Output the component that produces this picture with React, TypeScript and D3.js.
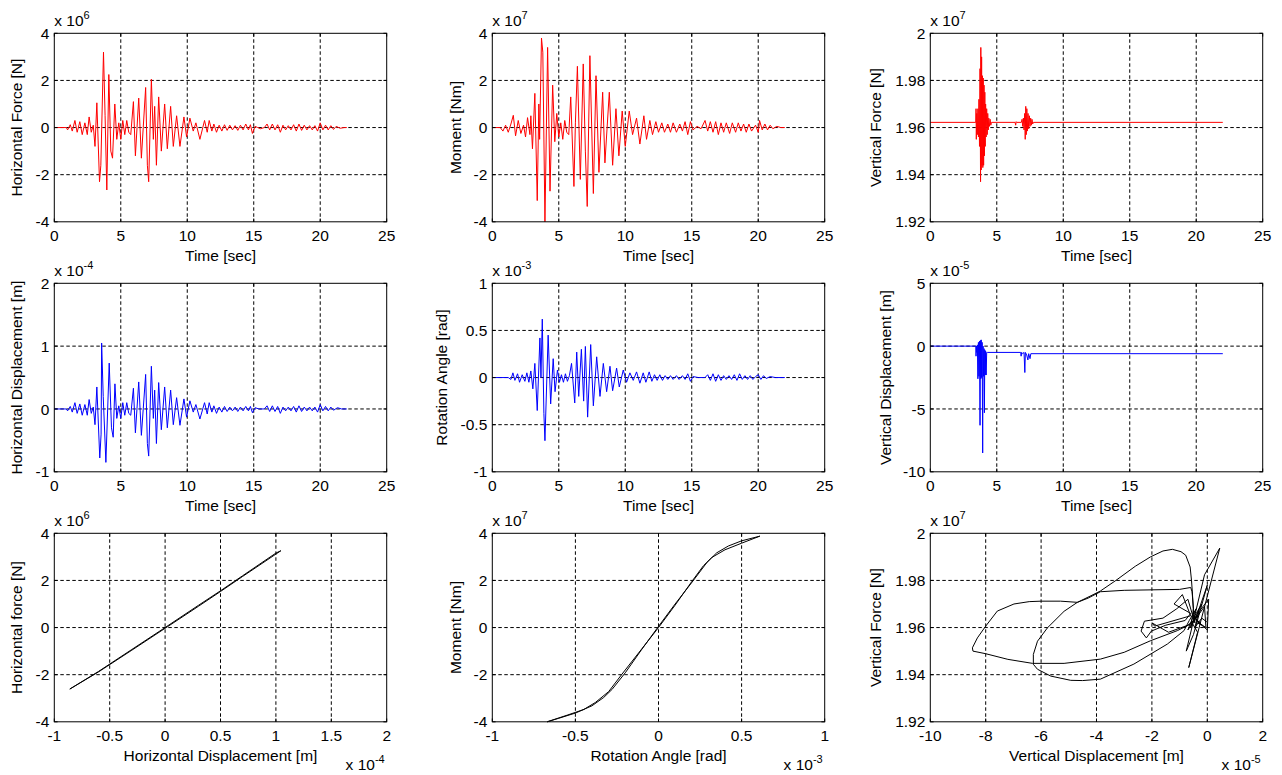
import React from "react";
import * as d3 from "d3";

// ---------- data ----------
// Horizontal force [x1e6 N] vs time [s]
const hForce: [number, number][] = [
  [0, 0], [0.9, 0], [1.0, -0.1], [1.2, 0.12], [1.35, -0.15], [1.55, 0.3], [1.72, -0.2], [1.92, 0.25], [2.1, -0.3],
  [2.3, 0.2], [2.48, -0.3], [2.62, 0.45], [2.78, -0.2], [2.93, 0.1], [3.06, -0.8], [3.2, 1.05], [3.4, -2.3],
  [3.5, -1.6], [3.7, 3.2], [3.82, 0.5], [3.95, -2.65], [4.1, 2.25], [4.25, -1.0], [4.38, -1.3], [4.55, 1.0],
  [4.7, -0.5], [4.85, 0.2], [5.0, -0.5], [5.15, 0.3], [5.3, -0.3], [5.45, 0.3], [5.6, -0.2], [5.75, -0.3],
  [5.95, 1.1], [6.1, -1.2], [6.35, 1.25], [6.55, -1.3], [6.87, 1.7], [7.0, -1.6], [7.1, -2.3], [7.3, 2.05],
  [7.45, -0.5], [7.55, 0.9], [7.68, -1.6], [7.85, 1.3], [8.05, -1.0], [8.3, 1.0], [8.5, -0.9], [8.75, 0.9],
  [8.95, -0.8], [9.2, 0.5], [9.45, -0.8], [9.75, 0.45], [9.95, -0.4], [10.2, 0.4], [10.45, -0.15], [10.65, 0.2],
  [10.95, -0.5], [11.3, 0.3], [11.5, -0.2], [11.65, 0.3], [11.85, -0.15], [12.0, 0.15], [12.2, -0.2], [12.4, 0.1],
  [12.6, -0.15], [12.8, 0.12], [13.0, -0.12], [13.2, 0.1], [13.4, -0.1], [13.6, 0.08], [13.8, -0.12], [14.0, 0.1],
  [14.2, -0.1], [14.4, 0.15], [14.6, -0.1], [14.75, 0.12], [14.9, -0.25], [15.1, 0.05], [15.3, 0.0], [15.5, -0.05],
  [15.8, 0.0], [16.0, 0.15], [16.2, -0.1], [16.4, 0.15], [16.6, -0.1], [16.8, 0.12], [17.0, -0.2], [17.2, 0.1],
  [17.4, -0.1], [17.6, 0.08], [17.8, -0.1], [18.0, 0.12], [18.2, -0.15], [18.4, 0.15], [18.6, -0.12], [18.8, 0.1],
  [19.0, -0.1], [19.2, 0.08], [19.4, -0.1], [19.6, 0.08], [19.8, -0.15], [20.0, 0.2], [20.2, -0.1], [20.4, 0.1],
  [20.6, -0.1], [20.8, 0.08], [21.0, -0.08], [21.2, 0.05], [21.5, -0.03], [21.8, 0.0], [22.0, 0.0],
];

// Moment [x1e7 Nm] vs time [s]
const moment: [number, number][] = [
  [0, 0], [0.6, 0], [0.8, -0.15], [1.0, 0.1], [1.2, -0.2], [1.4, 0.15], [1.58, 0.52], [1.75, -0.35], [1.95, 0.3],
  [2.15, -0.25], [2.35, 0.1], [2.5, -0.4], [2.65, 0.42], [2.83, -0.3], [2.9, 0.5], [3.02, -0.9], [3.2, 1.45],
  [3.38, -3.1], [3.5, 1.0], [3.56, -0.5], [3.7, 3.8], [3.8, 3.2], [3.96, -4.0], [4.16, 3.4], [4.34, -2.7],
  [4.54, 1.8], [4.7, -0.6], [4.85, 0.6], [5.0, -0.4], [5.15, 0.2], [5.3, -0.5], [5.45, 0.3], [5.6, -0.2],
  [5.75, -0.3], [5.9, 1.3], [6.14, -2.5], [6.25, 0.2], [6.4, 2.6], [6.62, -2.2], [6.84, 2.7], [7.0, -1.0],
  [7.14, -3.35], [7.34, 3.05], [7.6, -2.8], [7.8, 2.2], [8.02, -1.9], [8.3, 1.5], [8.47, -1.5], [8.8, 1.5],
  [9.05, -1.6], [9.3, 0.8], [9.52, -1.2], [9.77, 0.7], [10.0, -0.8], [10.3, 0.7], [10.55, -0.3], [10.85, 0.4],
  [11.1, -0.7], [11.4, 0.5], [11.6, -0.5], [11.85, 0.3], [12.05, -0.3], [12.3, 0.25], [12.5, -0.2], [12.75, 0.2],
  [12.95, -0.2], [13.2, 0.15], [13.4, -0.2], [13.6, 0.2], [13.85, -0.2], [14.1, 0.15], [14.3, -0.15], [14.5, 0.25],
  [14.7, -0.3], [14.9, 0.25], [15.1, -0.1], [15.4, 0.05], [15.7, -0.05], [16.0, 0.3], [16.2, -0.15], [16.4, 0.25],
  [16.6, -0.2], [16.8, 0.25], [17.0, -0.3], [17.2, 0.2], [17.4, -0.2], [17.6, 0.2], [17.85, -0.25], [18.05, 0.2],
  [18.3, -0.2], [18.5, 0.2], [18.7, -0.15], [18.9, 0.15], [19.1, -0.2], [19.3, 0.15], [19.5, -0.15], [19.8, 0.1],
  [20.0, -0.2], [20.1, 0.3], [20.3, -0.1], [20.5, 0.15], [20.7, -0.1], [20.9, 0.1], [21.1, -0.05], [21.4, 0.05],
  [21.7, 0.0], [22.0, 0.0],
];

// Vertical force [x1e7 N] vs time [s]
const vForce: [number, number][] = [
  [0, 1.9622], [3.42, 1.9622], [3.44, 1.968], [3.46, 1.955], [3.5, 1.966], [3.54, 1.957], [3.58, 1.968],
  [3.62, 1.956], [3.66, 1.972], [3.7, 1.952], [3.74, 1.985], [3.78, 1.937], [3.8, 1.994], [3.83, 1.942],
  [3.86, 1.99], [3.89, 1.944], [3.92, 1.982], [3.95, 1.943], [3.98, 1.981], [4.01, 1.944], [4.04, 1.978],
  [4.07, 1.948], [4.1, 1.975], [4.13, 1.952], [4.16, 1.97], [4.2, 1.956], [4.24, 1.968], [4.28, 1.957],
  [4.32, 1.966], [4.36, 1.959], [4.4, 1.964], [4.45, 1.9605], [4.5, 1.9635], [4.55, 1.961], [4.6, 1.9622],
  [6.38, 1.9622], [6.42, 1.961], [6.46, 1.9625], [6.5, 1.9622], [6.85, 1.9622], [6.9, 1.9635], [6.95, 1.9605],
  [7.0, 1.964], [7.05, 1.959], [7.1, 1.966], [7.14, 1.955], [7.18, 1.969], [7.22, 1.957], [7.26, 1.968],
  [7.3, 1.9585], [7.35, 1.966], [7.4, 1.9595], [7.45, 1.965], [7.5, 1.9605], [7.55, 1.964], [7.6, 1.961],
  [7.65, 1.9635], [7.7, 1.9615], [7.75, 1.9622], [22.0, 1.9622],
];

// Horizontal displacement [x1e-4 m] vs time [s]
const hDisp: [number, number][] = [
  [0, 0], [0.9, 0], [1.0, -0.03], [1.2, 0.04], [1.35, -0.05], [1.55, 0.1], [1.72, -0.07], [1.92, 0.08], [2.1, -0.1],
  [2.3, 0.07], [2.48, -0.1], [2.62, 0.15], [2.78, -0.07], [2.93, 0.03], [3.06, -0.25], [3.2, 0.35], [3.42, -0.78],
  [3.52, -0.4], [3.56, 1.05], [3.68, 0.2], [3.88, -0.85], [4.13, 0.73], [4.3, -0.3], [4.43, -0.45], [4.56, 0.4],
  [4.7, -0.15], [4.85, 0.05], [5.0, -0.15], [5.15, 0.1], [5.3, -0.1], [5.45, 0.1], [5.6, -0.07], [5.75, -0.1],
  [5.95, 0.33], [6.1, -0.38], [6.35, 0.43], [6.55, -0.42], [6.87, 0.55], [7.0, -0.55], [7.1, -0.75], [7.3, 0.68],
  [7.45, -0.15], [7.55, 0.3], [7.68, -0.55], [7.85, 0.42], [8.05, -0.33], [8.3, 0.35], [8.5, -0.3], [8.75, 0.3],
  [8.95, -0.25], [9.2, 0.18], [9.45, -0.26], [9.75, 0.16], [9.95, -0.13], [10.2, 0.13], [10.45, -0.05], [10.65, 0.07],
  [10.95, -0.16], [11.3, 0.1], [11.5, -0.08], [11.65, 0.1], [11.85, -0.05], [12.0, 0.05], [12.2, -0.07], [12.4, 0.03],
  [12.6, -0.05], [12.8, 0.04], [13.0, -0.04], [13.2, 0.03], [13.4, -0.03], [13.6, 0.03], [13.8, -0.04], [14.0, 0.03],
  [14.2, -0.03], [14.4, 0.04], [14.6, -0.03], [14.75, 0.04], [14.9, -0.06], [15.1, 0.02], [15.4, 0.0], [15.8, 0.0],
  [16.0, 0.05], [16.2, -0.04], [16.4, 0.05], [16.6, -0.04], [16.8, 0.04], [17.0, -0.07], [17.2, 0.03], [17.4, -0.03],
  [17.6, 0.03], [17.8, -0.03], [18.0, 0.04], [18.2, -0.05], [18.4, 0.05], [18.6, -0.04], [18.8, 0.03], [19.0, -0.03],
  [19.2, 0.03], [19.4, -0.03], [19.6, 0.03], [19.8, -0.05], [20.0, 0.07], [20.2, -0.03], [20.4, 0.04], [20.6, -0.03],
  [20.8, 0.03], [21.0, -0.02], [21.3, 0.02], [21.6, 0.0], [22.0, 0.0],
];

// Rotation angle [x1e-3 rad] vs time [s]
const rotation: [number, number][] = [
  [0, 0], [1.2, 0], [1.4, -0.02], [1.55, 0.05], [1.7, -0.03], [1.9, 0.04], [2.05, -0.05], [2.25, 0.03], [2.45, -0.04],
  [2.6, 0.05], [2.75, -0.05], [2.9, 0.07], [3.05, -0.12], [3.2, 0.15], [3.38, -0.35], [3.58, 0.42], [3.66, 0.0],
  [3.76, 0.62], [3.88, -0.38], [3.96, -0.67], [4.2, 0.45], [4.39, -0.28], [4.58, 0.2], [4.72, -0.15], [4.9, 0.08],
  [5.05, -0.05], [5.2, 0.03], [5.35, -0.05], [5.5, 0.04], [5.65, -0.04], [5.8, 0.02], [5.96, 0.15], [6.2, -0.27],
  [6.35, 0.27], [6.5, -0.2], [6.7, 0.3], [6.87, -0.25], [7.0, 0.33], [7.17, -0.42], [7.4, 0.35], [7.6, -0.3],
  [7.85, 0.22], [8.1, -0.2], [8.35, 0.15], [8.6, -0.15], [8.85, 0.12], [9.05, -0.14], [9.35, 0.1], [9.55, -0.1],
  [9.85, 0.08], [10.1, -0.05], [10.35, 0.05], [10.6, -0.03], [10.85, 0.06], [11.1, -0.06], [11.35, 0.05],
  [11.55, -0.05], [11.8, 0.06], [12.0, -0.04], [12.2, 0.03], [12.4, -0.03], [12.6, 0.03], [12.8, -0.03], [13.0, 0.02],
  [13.2, -0.02], [13.4, 0.02], [13.6, -0.02], [13.85, 0.02], [14.05, -0.02], [14.3, 0.02], [14.5, -0.02], [14.7, 0.04],
  [14.9, -0.04], [15.1, 0.01], [15.5, 0.0], [16.0, 0.0], [16.2, 0.03], [16.4, -0.03], [16.6, 0.04], [16.8, -0.04],
  [17.0, 0.03], [17.2, -0.03], [17.4, 0.02], [17.6, -0.02], [17.8, 0.02], [18.0, -0.02], [18.2, 0.03], [18.4, -0.03],
  [18.6, 0.04], [18.8, -0.02], [19.0, 0.02], [19.2, -0.02], [19.4, 0.02], [19.6, -0.02], [19.8, 0.01], [20.0, 0.03],
  [20.2, -0.02], [20.4, 0.02], [20.6, -0.01], [20.9, 0.01], [21.3, 0.0], [22.0, 0.0],
];

// Vertical displacement [x1e-5 m] vs time [s]
const vDisp: [number, number][] = [
  [0, 0], [3.42, 0], [3.44, -0.8], [3.47, 0], [3.5, -0.5], [3.54, 0.1], [3.58, -2.6], [3.62, 0.3], [3.66, -2.4],
  [3.7, 0.4], [3.74, -6.3], [3.77, 0.45], [3.8, -2.6], [3.83, 0.5], [3.86, -2.5], [3.9, 0.3], [3.94, -8.5],
  [3.97, 0.0], [4.0, -2.4], [4.04, -0.2], [4.07, -5.3], [4.1, -0.3], [4.13, -2.3], [4.16, -0.4], [4.2, -2.3],
  [4.24, -0.5], [4.3, -0.5], [6.8, -0.5], [6.83, -0.8], [6.87, -0.5], [6.95, -0.6], [7.05, -0.5], [7.11, -2.1],
  [7.15, -0.5], [7.25, -0.7], [7.34, -1.1], [7.4, -0.6], [7.5, -1.0], [7.56, -0.6], [22.0, -0.6],
];

// Horizontal force [x1e6 N] vs horizontal displacement [x1e-4 m]
const hfLoop: [number, number][] = [
  [-0.86, -2.61], [-0.6, -1.86], [-0.3, -0.93], [0, 0], [0.3, 0.94], [0.5, 1.56], [0.7, 2.2], [1.0, 3.16], [1.045, 3.26],
  [0.7, 2.17], [0.5, 1.53], [0.3, 0.9], [0.02, 0.03], [-0.3, -0.96], [-0.6, -1.88], [-0.86, -2.61],
];

// Moment [x1e7 Nm] vs rotation angle [x1e-3 rad]
const mLoop: [number, number][] = [
  [-0.67, -4.0], [-0.55, -3.72], [-0.45, -3.48], [-0.38, -3.18], [-0.3, -2.72], [-0.22, -1.98], [-0.1, -0.9],
  [0, 0], [0.1, 0.95], [0.2, 1.95], [0.27, 2.62], [0.32, 2.97], [0.4, 3.3], [0.5, 3.58], [0.61, 3.88],
  [0.5, 3.68], [0.42, 3.46], [0.35, 3.17], [0.29, 2.75], [0.21, 2.0], [0.1, 1.0], [0, 0.05], [-0.1, -0.92],
  [-0.2, -1.92], [-0.28, -2.63], [-0.33, -2.97], [-0.4, -3.32], [-0.5, -3.63], [-0.6, -3.85], [-0.67, -4.0],
];

// Vertical force [x1e7 N] vs vertical displacement [x1e-5 m]
const vLoop: [number, number][] = [
  [0, 1.9622], [-0.2, 1.964], [-0.45, 1.96], [-0.3, 1.967], [-0.55, 1.962], [-0.35, 1.958],
  [-0.67, 1.943], [0.45, 1.9937], [-0.1, 1.9824], [-0.76, 1.95], [-0.5, 1.957], [0.0, 1.978], [-0.35, 1.966],
  [0.05, 1.972], [0.0, 1.959], [-0.5, 1.964], [-0.2, 1.97], [-0.6, 1.96],
  [-0.5, 1.968], [-0.55, 1.9752], [-0.6, 1.977], [-1.0, 1.9762], [-2.0, 1.976], [-3.0, 1.9758], [-3.86, 1.9752],
  [-4.3, 1.9725], [-4.69, 1.9707], [-5.3, 1.9712], [-6.0, 1.9712], [-6.43, 1.971], [-6.98, 1.97], [-7.58, 1.967],
  [-8.0, 1.9606], [-8.3, 1.9556], [-8.48, 1.9514], [-8.46, 1.95], [-8.0, 1.9489], [-7.2, 1.9465], [-6.31, 1.9448],
  [-5.17, 1.9448], [-3.86, 1.9466], [-3.0, 1.9495], [-2.05, 1.9544], [-1.08, 1.9587], [-0.6, 1.9615],
  [-0.3, 1.966], [-0.7, 1.959], [-0.4, 1.968], [-0.65, 1.963],
  [-0.84, 1.9587], [-1.44, 1.953], [-2.65, 1.9445], [-3.86, 1.9381], [-4.5, 1.9375], [-4.93, 1.9376],
  [-5.65, 1.9394], [-6.13, 1.9423], [-6.28, 1.9444], [-6.28, 1.9486], [-6.13, 1.9542], [-5.77, 1.9599],
  [-5.17, 1.9669], [-4.69, 1.9707], [-4.2, 1.9735], [-3.86, 1.9755], [-3.3, 1.98], [-2.6, 1.986], [-2.05, 1.99],
  [-1.6, 1.9925], [-1.26, 1.9932], [-0.95, 1.9922], [-0.78, 1.9907], [-0.62, 1.9857], [-0.57, 1.98],
  [-0.54, 1.9751], [-0.5, 1.967],
  [-0.45, 1.962], [-0.7, 1.972], [-1.1, 1.968], [-1.6, 1.964], [-2.27, 1.9627], [-2.39, 1.9585], [-2.2, 1.9556],
  [-2.02, 1.9585], [-1.5, 1.961], [-0.8, 1.963], [-0.6, 1.966], [-1.2, 1.97], [-0.9, 1.974], [-0.6, 1.965],
  [-1.9, 1.9606], [-2.0, 1.962], [-1.4, 1.958], [-0.7, 1.961], [-0.4, 1.964], [-0.1, 1.969], [-0.05, 1.96],
  [-0.3, 1.962], [-0.5, 1.965], [-0.2, 1.961], [-0.4, 1.9622],
];

// tick values & labels
const timeTicks = [0, 5, 10, 15, 20, 25];
const timeTickLabels = ["0", "5", "10", "15", "20", "25"];
const pm4Ticks = [-4, -2, 0, 2, 4];
const pm4Labels = ["-4", "-2", "0", "2", "4"];
const vfTicks = [1.92, 1.94, 1.96, 1.98, 2.0];
const vfLabels = ["1.92", "1.94", "1.96", "1.98", "2"];
const hdTicks = [-1, 0, 1, 2];
const hdLabels = ["-1", "0", "1", "2"];
const rotTicks = [-1, -0.5, 0, 0.5, 1];
const rotLabels = ["-1", "-0.5", "0", "0.5", "1"];
const vdTicks = [-10, -5, 0, 5];
const vdLabels = ["-10", "-5", "0", "5"];
const hdxTicks = [-1, -0.5, 0, 0.5, 1, 1.5, 2];
const hdxLabels = ["-1", "-0.5", "0", "0.5", "1", "1.5", "2"];
const rotxTicks = [-1, -0.5, 0, 0.5, 1];
const rotxLabels = ["-1", "-0.5", "0", "0.5", "1"];
const vdxTicks = [-10, -8, -6, -4, -2, 0, 2];
const vdxLabels = ["-10", "-8", "-6", "-4", "-2", "0", "2"];

// ---------- layout ----------
const COLX = [54.3, 492.3, 930.3];
const ROWY = [33.3, 283.3, 533.3];
const PW = 332.4;
const PH = 188.5;
const FONT = "'Liberation Sans', Arial, Helvetica, sans-serif";
const FS = 15.5;

type Panel = {
  col: number; row: number;
  data: [number, number][]; color: string;
  xDomain: [number, number]; yDomain: [number, number];
  xTicks: number[]; xLabels: string[]; yTicks: number[]; yLabels: string[];
  xTitle: string; yTitle: string; yExp: string; xExp?: string; yTitleOff: number;
};

const panels: Panel[] = [
  { col: 0, row: 0, data: hForce, color: "#ff0000", xDomain: [0, 25], yDomain: [-4, 4], xTicks: timeTicks, xLabels: timeTickLabels, yTicks: pm4Ticks, yLabels: pm4Labels, xTitle: "Time [sec]", yTitle: "Horizontal Force [N]", yExp: "6", yTitleOff: 37.6 },
  { col: 1, row: 0, data: moment, color: "#ff0000", xDomain: [0, 25], yDomain: [-4, 4], xTicks: timeTicks, xLabels: timeTickLabels, yTicks: pm4Ticks, yLabels: pm4Labels, xTitle: "Time [sec]", yTitle: "Moment [Nm]", yExp: "7", yTitleOff: 37 },
  { col: 2, row: 0, data: vForce, color: "#ff0000", xDomain: [0, 25], yDomain: [1.92, 2.0], xTicks: timeTicks, xLabels: timeTickLabels, yTicks: vfTicks, yLabels: vfLabels, xTitle: "Time [sec]", yTitle: "Vertical Force [N]", yExp: "7", yTitleOff: 55 },
  { col: 0, row: 1, data: hDisp, color: "#0000ff", xDomain: [0, 25], yDomain: [-1, 2], xTicks: timeTicks, xLabels: timeTickLabels, yTicks: hdTicks, yLabels: hdLabels, xTitle: "Time [sec]", yTitle: "Horizontal Displacement [m]", yExp: "-4", yTitleOff: 37.6 },
  { col: 1, row: 1, data: rotation, color: "#0000ff", xDomain: [0, 25], yDomain: [-1, 1], xTicks: timeTicks, xLabels: timeTickLabels, yTicks: rotTicks, yLabels: rotLabels, xTitle: "Time [sec]", yTitle: "Rotation Angle [rad]", yExp: "-3", yTitleOff: 50.6 },
  { col: 2, row: 1, data: vDisp, color: "#0000ff", xDomain: [0, 25], yDomain: [-10, 5], xTicks: timeTicks, xLabels: timeTickLabels, yTicks: vdTicks, yLabels: vdLabels, xTitle: "Time [sec]", yTitle: "Vertical Displacement [m]", yExp: "-5", yTitleOff: 45 },
  { col: 0, row: 2, data: hfLoop, color: "#000000", xDomain: [-1, 2], yDomain: [-4, 4], xTicks: hdxTicks, xLabels: hdxLabels, yTicks: pm4Ticks, yLabels: pm4Labels, xTitle: "Horizontal Displacement [m]", yTitle: "Horizontal force [N]", yExp: "6", xExp: "-4", yTitleOff: 37.6 },
  { col: 1, row: 2, data: mLoop, color: "#000000", xDomain: [-1, 1], yDomain: [-4, 4], xTicks: rotxTicks, xLabels: rotxLabels, yTicks: pm4Ticks, yLabels: pm4Labels, xTitle: "Rotation Angle [rad]", yTitle: "Moment [Nm]", yExp: "7", xExp: "-3", yTitleOff: 37 },
  { col: 2, row: 2, data: vLoop, color: "#000000", xDomain: [-10, 2], yDomain: [1.92, 2.0], xTicks: vdxTicks, xLabels: vdxLabels, yTicks: vfTicks, yLabels: vfLabels, xTitle: "Vertical Displacement [m]", yTitle: "Vertical Force [N]", yExp: "7", xExp: "-5", yTitleOff: 55 },
];

function PanelView({ p }: { p: Panel }) {
  const x0 = COLX[p.col];
  const y0 = ROWY[p.row];
  const x = d3.scaleLinear().domain(p.xDomain).range([x0, x0 + PW]);
  const y = d3.scaleLinear().domain(p.yDomain).range([y0 + PH, y0]);
  const line = d3.line<[number, number]>().x((d) => x(d[0])).y((d) => y(d[1]));
  const [xa, xb] = p.xDomain;
  const [ya, yb] = p.yDomain;
  const eps = 1e-9;
  const innerX = p.xTicks.filter((t) => t > xa + eps && t < xb - eps);
  const innerY = p.yTicks.filter((t) => t > ya + eps && t < yb - eps);
  const tl = 3.3;
  return (
    <g>
      {/* grid */}
      {innerX.map((t, i) => (
        <line key={"gx" + i} x1={x(t)} x2={x(t)} y1={y0} y2={y0 + PH} stroke="#000" strokeWidth={1} strokeDasharray="3.5,2.5" />
      ))}
      {innerY.map((t, i) => (
        <line key={"gy" + i} x1={x0} x2={x0 + PW} y1={y(t)} y2={y(t)} stroke="#000" strokeWidth={1} strokeDasharray="3.5,2.5" />
      ))}
      {/* data */}
      <path d={line(p.data) || ""} fill="none" stroke={p.color} strokeWidth={1} strokeLinejoin="round" />
      {/* ticks */}
      {p.xTicks.map((t, i) => (
        <g key={"tx" + i}>
          <line x1={x(t)} x2={x(t)} y1={y0 + PH} y2={y0 + PH - tl} stroke="#000" />
          <line x1={x(t)} x2={x(t)} y1={y0} y2={y0 + tl} stroke="#000" />
        </g>
      ))}
      {p.yTicks.map((t, i) => (
        <g key={"ty" + i}>
          <line x1={x0} x2={x0 + tl} y1={y(t)} y2={y(t)} stroke="#000" />
          <line x1={x0 + PW} x2={x0 + PW - tl} y1={y(t)} y2={y(t)} stroke="#000" />
        </g>
      ))}
      {/* box */}
      <rect x={x0} y={y0} width={PW} height={PH} fill="none" stroke="#000" strokeWidth={1} />
      {/* tick labels */}
      {p.xTicks.map((t, i) => (
        <text key={"lx" + i} x={x(t)} y={y0 + PH + 19} textAnchor="middle" fontSize={FS} fontFamily={FONT} fill="#000">
          {p.xLabels[i]}
        </text>
      ))}
      {p.yTicks.map((t, i) => (
        <text key={"ly" + i} x={x0 - 5} y={y(t)} dy="0.36em" textAnchor="end" fontSize={FS} fontFamily={FONT} fill="#000">
          {p.yLabels[i]}
        </text>
      ))}
      {/* axis titles */}
      <text x={x0 + PW / 2} y={y0 + PH + 39} textAnchor="middle" fontSize={FS} fontFamily={FONT} fill="#000">
        {p.xTitle}
      </text>
      <text
        transform={`translate(${x0 - p.yTitleOff},${y0 + PH / 2}) rotate(-90)`}
        dy="0.35em" textAnchor="middle" fontSize={FS} fontFamily={FONT} fill="#000"
      >
        {p.yTitle}
      </text>
      {/* exponents */}
      <text x={x0} y={y0 - 7} fontSize={FS} fontFamily={FONT} fill="#000">
        x 10<tspan dy="-7" fontSize={11}>{p.yExp}</tspan>
      </text>
      {p.xExp && (
        <text x={x0 + PW - 2} y={y0 + PH + 48} textAnchor="end" fontSize={FS} fontFamily={FONT} fill="#000">
          x 10<tspan dy="-7" fontSize={11}>{p.xExp}</tspan>
        </text>
      )}
    </g>
  );
}

export default function App() {
  return (
    <svg width={1282} height={775} style={{ position: "absolute", left: 0, top: 0, background: "#fff" }}>
      <rect x={0} y={0} width={1282} height={775} fill="#fff" />
      {panels.map((p, i) => (
        <PanelView key={i} p={p} />
      ))}
    </svg>
  );
}
